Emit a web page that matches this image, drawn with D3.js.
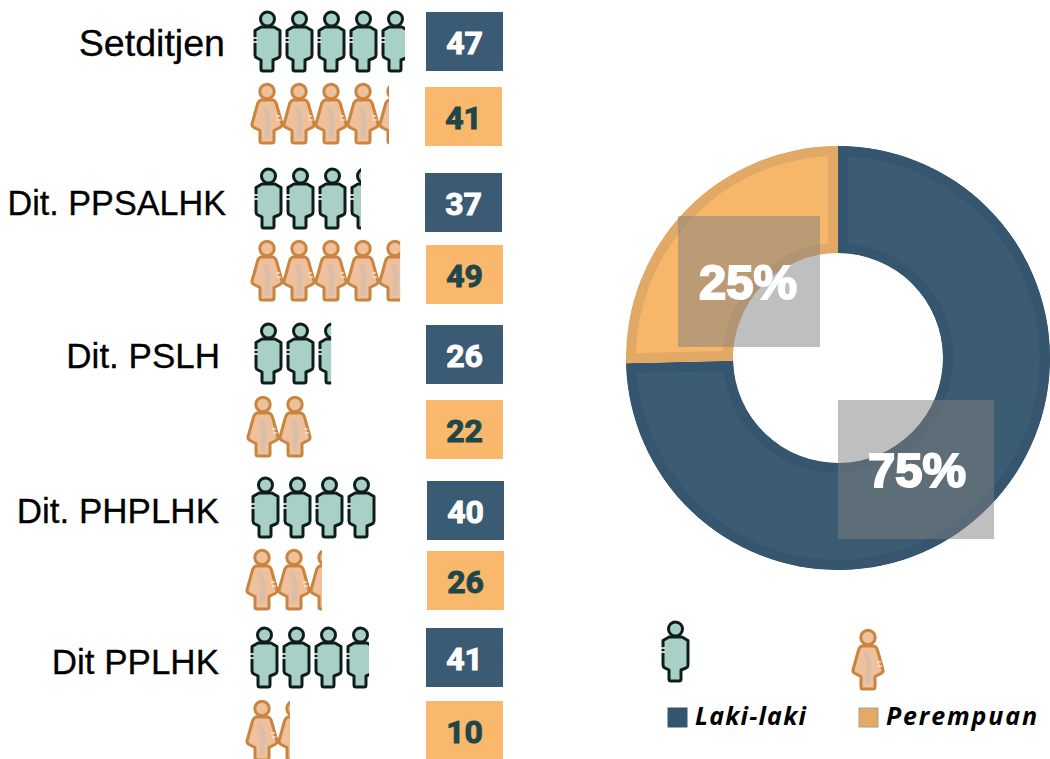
<!DOCTYPE html>
<html>
<head>
<meta charset="utf-8">
<script src="https://cdn.jsdelivr.net/npm/d3@7"></script>
<style>
    html, body { margin: 0; padding: 0; background: #fff; overflow: hidden; }
    svg { display: block; }
</style>
</head>
<body>
<script>
// data
const categories = ["Setditjen", "Dit. PPSALHK", "Dit. PSLH", "Dit. PHPLHK", "Dit PPLHK"];
const maleValues = [47, 37, 26, 40, 41];
const femaleValues = [41, 49, 22, 26, 10];
// how many figures are visible in each row, they do not follow the numbers exactly
const maleFigures = [4.72, 3.31, 2.38, 4, 3.69];
const femaleFigures = [4.28, 4.63, 2, 2.34, 1.34];
const shareNames = ["Laki-laki", "Perempuan"];
const shareValues = [74.6, 25.4];

// layout of the rows, the original was placed by hand
const labelRight = [225, 226, 220, 219, 219];
const labelBase = [56, 215, 368, 523, 674];
const labelSize = [37.6, 34.2, 35, 35, 35];
const maleIconX = [254, 255, 255, 252, 251];
const maleIconY = [11, 168, 323, 477, 627];
const femaleIconX = [252, 252, 248, 247, 247];
const femaleIconY = [83, 240, 396, 549, 700];
const maleBoxX = [426, 425, 426, 427, 426];
const maleBoxY = [12, 173, 325, 481, 628];
const femaleBoxX = [425, 426, 426, 427, 426];
const femaleBoxY = [87, 245, 400, 551, 701];

const width = 1050, height = 759;
const boxW = 77, boxH = 59;

const svg = d3.select("body").append("svg")
    .attr("width", width)
    .attr("height", height);

const defs = svg.append("defs");

defs.append("filter").attr("id", "soft")
    .append("feGaussianBlur").attr("stdDeviation", 0.5);

// figure symbols
const maleSymbol = defs.append("g").attr("id", "male");
maleSymbol.append("path")
    .attr("d", "M7,16 H20 L26,19.5 V44 Q26,46 24,47 L19,49 V58 Q19,60 17,60 H9 Q7,60 7,58 V49 L3,47 Q1,46 1,44 V19.5 Z")
    .attr("fill", "#a9d0c6").attr("stroke", "#111f1b").attr("stroke-width", 3).attr("stroke-linejoin", "round");
maleSymbol.append("circle")
    .attr("cx", 13.5).attr("cy", 8).attr("r", 7)
    .attr("fill", "#a9d0c6").attr("stroke", "#111f1b").attr("stroke-width", 3);
maleSymbol.append("path")
    .attr("d", "M-1,27 H3 M-1,31 H3")
    .attr("stroke", "#fff").attr("stroke-width", 1.4);

const femaleSymbol = defs.append("g").attr("id", "female");
femaleSymbol.append("path")
    .attr("d", "M9,17 H21 Q24,18 25,23 L30,41 Q30.5,43 28,44.5 L22,47.5 V58 Q22,60 20,60 H10 Q8,60 8,58 V47.5 L2,44.5 Q-0.5,43 0,41 L5,23 Q6,18 9,17 Z")
    .attr("fill", "#eec19c").attr("stroke", "#c9853f").attr("stroke-width", 3).attr("stroke-linejoin", "round");
femaleSymbol.append("path")
    .attr("d", "M13,24 L16,34 L15,55")
    .attr("fill", "none").attr("stroke", "#d9bfa9").attr("stroke-width", 5);
femaleSymbol.append("circle")
    .attr("cx", 15).attr("cy", 8.5).attr("r", 7.2)
    .attr("fill", "#eec19c").attr("stroke", "#c9853f").attr("stroke-width", 3);
femaleSymbol.append("path")
    .attr("d", "M24,33 H28 M25,37 H29")
    .attr("stroke", "#fff").attr("stroke-width", 1);

// row labels
svg.append("g").selectAll("text")
    .data(categories)
    .enter().append("text")
    .attr("x", (d, i) => labelRight[i])
    .attr("y", (d, i) => labelBase[i])
    .attr("text-anchor", "end")
    .style("font-family", "'Liberation Sans', Arial, sans-serif")
    .style("font-size", (d, i) => labelSize[i] + "px")
    .style("fill", "#000")
    .style("stroke", "#000")
    .style("stroke-width", 0.3)
    .text(d => d);

// one figure is 32px wide, the scale turns figure counts into pixels
const figureScale = d3.scaleLinear().domain([0, 1]).range([0, 32]);

function drawFigures(name, symbol, counts, xs, ys) {
    const rows = svg.append("g").attr("class", name)
        .selectAll("g")
        .data(counts)
        .enter().append("g")
        .attr("transform", (d, i) => `translate(${xs[i]},${ys[i]})`);

    rows.each(function (count, i) {
        const id = `clip-${name}-${i}`;
        defs.append("clipPath").attr("id", id)
            .append("rect")
            .attr("x", -3).attr("y", -3)
            .attr("width", figureScale(count) + 3)
            .attr("height", 70);

        d3.select(this).append("g")
            .attr("clip-path", `url(#${id})`)
            .append("g")
            .attr("filter", "url(#soft)")
            .selectAll("use")
            .data(d3.range(Math.ceil(count)))
            .enter().append("use")
            .attr("href", "#" + symbol)
            .attr("x", k => figureScale(k));
    });
}

drawFigures("male-figures", "male", maleFigures, maleIconX, maleIconY);
drawFigures("female-figures", "female", femaleFigures, femaleIconX, femaleIconY);

function drawBoxes(name, values, xs, ys, fill, textFill) {
    const boxes = svg.append("g").attr("class", name)
        .selectAll("g")
        .data(values)
        .enter().append("g")
        .attr("transform", (d, i) => `translate(${xs[i]},${ys[i]})`);

    boxes.append("rect")
        .attr("width", boxW)
        .attr("height", boxH)
        .attr("fill", fill);

    boxes.append("text")
        .attr("x", boxW / 2)
        .attr("y", 42)
        .attr("text-anchor", "middle")
        .style("font-family", "Roboto, sans-serif")
        .style("font-weight", 700)
        .style("font-size", "32px")
        .style("fill", textFill)
        .style("stroke", textFill)
        .style("stroke-width", 1)
        .text(d => d);
}

drawBoxes("male-boxes", maleValues, maleBoxX, maleBoxY, "#3a5b73", "#fff");
drawBoxes("female-boxes", femaleValues, femaleBoxX, femaleBoxY, "#f9b86c", "#1f474a");

// donut
const cx = 838, cy = 358;
const outerR = 212, innerR = 105;
const fills = ["#3a5b73", "#f7b76b"];
const edges = ["#35566e", "#e2a966"];

const pie = d3.pie().sort(null);
const arc = d3.arc().innerRadius(innerR).outerRadius(outerR);
const slices = pie(shareValues);

const donut = svg.append("g")
    .attr("transform", `translate(${cx},${cy})`)
    .attr("filter", "url(#soft)");

slices.forEach((s, i) => {
    // stroke is clipped to the slice so the darker edge sits only inside it
    defs.append("clipPath").attr("id", "slice-" + i)
        .append("path").attr("d", arc(s));

    donut.append("path")
        .attr("d", arc(s))
        .attr("fill", fills[i])
        .attr("stroke", edges[i])
        .attr("stroke-width", 20)
        .attr("clip-path", `url(#slice-${i})`);
});

// grey label plates, laki-laki first like the slices
const plates = [
    { x: 838, y: 400, w: 156, h: 139, textX: 917, textY: 487 },
    { x: 678, y: 216, w: 142, h: 131, textX: 748, textY: 299 }
];

const plate = svg.append("g").selectAll("g")
    .data(slices)
    .enter().append("g");

plate.append("rect")
    .attr("x", (d, i) => plates[i].x)
    .attr("y", (d, i) => plates[i].y)
    .attr("width", (d, i) => plates[i].w)
    .attr("height", (d, i) => plates[i].h)
    .attr("fill", "#7f7f7f")
    .attr("fill-opacity", 0.5);

plate.append("text")
    .attr("x", (d, i) => plates[i].textX)
    .attr("y", (d, i) => plates[i].textY)
    .attr("text-anchor", "middle")
    .style("font-family", "'Liberation Sans', Arial, sans-serif")
    .style("font-weight", 700)
    .style("font-size", "49px")
    .style("fill", "#fff")
    .style("stroke", "#fff")
    .style("stroke-width", 2)
    .text(d => Math.round(d.value) + "%");

// legend
svg.append("use").attr("href", "#male").attr("x", 662).attr("y", 621).attr("filter", "url(#soft)");
svg.append("use").attr("href", "#female").attr("x", 853).attr("y", 629).attr("filter", "url(#soft)");

const legendX = [668, 859];
const legendTextX = [695, 886];
const legendFills = ["#33566e", "#e3aa65"];
const legendStroke = ["#33566e", "#a9a08f"];
const legendSpacing = ["1.2px", "1.85px"];

const legend = svg.append("g").selectAll("g")
    .data(shareNames)
    .enter().append("g");

legend.append("rect")
    .attr("x", (d, i) => legendX[i])
    .attr("y", 708)
    .attr("width", 19)
    .attr("height", 19)
    .attr("fill", (d, i) => legendFills[i])
    .attr("stroke", (d, i) => legendStroke[i]);

legend.append("text")
    .attr("x", (d, i) => legendTextX[i])
    .attr("y", 725)
    .style("font-family", "'Open Sans', sans-serif")
    .style("font-weight", 700)
    .style("font-style", "italic")
    .style("font-size", "25px")
    .style("letter-spacing", (d, i) => legendSpacing[i])
    .style("fill", "#000")
    .text(d => d);
</script>
</body>
</html>
